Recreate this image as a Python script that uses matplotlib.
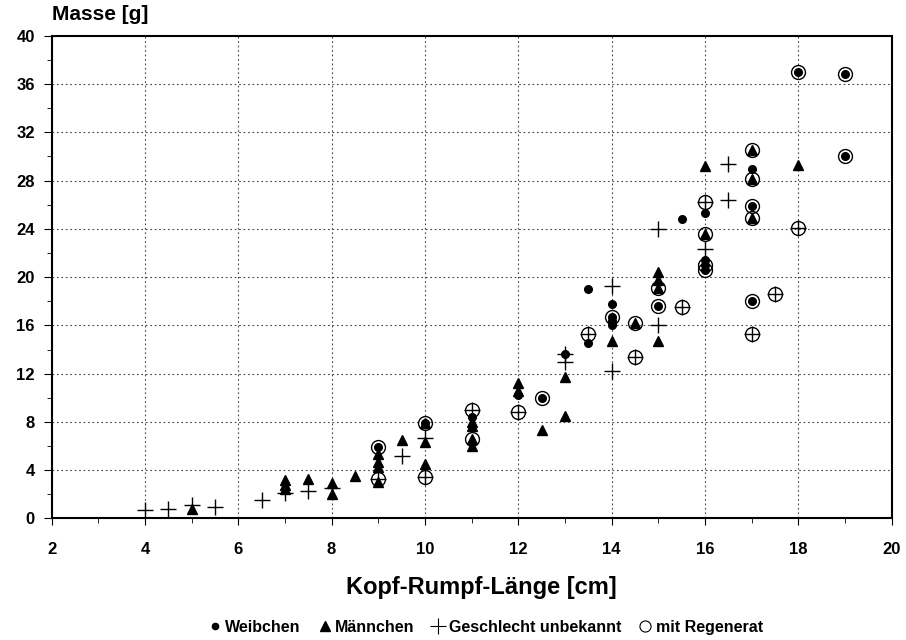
import matplotlib
matplotlib.use('Agg')
import matplotlib.pyplot as plt
from matplotlib.lines import Line2D

plt.rcParams['font.family'] = ['Liberation Sans', 'DejaVu Sans']
plt.rcParams['font.weight'] = 'bold'

# Weibchen (filled circles)
w_x = [9, 10, 11, 12, 12.5, 13, 13.5, 13.5, 14, 14, 14, 14, 15, 15.5, 16, 16, 16, 16,
       17, 17, 17, 18, 19, 19]
w_y = [5.9, 7.9, 8.4, 10.2, 10.0, 13.6, 19.0, 14.5, 17.8, 16.7, 16.4, 16.0, 17.6, 24.8,
       25.3, 21.4, 21.0, 20.6, 29.0, 25.9, 18.0, 37.0, 36.8, 30.0]

# Männchen (filled triangles)
m_x = [5, 7, 7, 7, 7.5, 8, 8, 8.5, 9, 9, 9, 9, 9.5, 10, 10, 10, 11, 11, 11, 11,
       12, 12, 12.5, 13, 13, 14, 14.5, 15, 15, 15, 15, 16, 16, 17, 17, 17, 18]
m_y = [0.8, 3.2, 2.8, 2.4, 3.3, 2.9, 2.0, 3.5, 5.3, 4.7, 4.3, 3.0, 6.5, 7.9, 6.3, 4.5,
       8.0, 7.7, 6.6, 6.0, 11.2, 10.6, 7.3, 11.7, 8.45, 14.7, 16.2, 20.4, 19.8, 19.1,
       14.7, 29.2, 23.6, 30.5, 28.1, 24.9, 29.3]

# Geschlecht unbekannt (plus)
u_x = [4, 4.5, 5, 5.5, 6.5, 7, 7.5, 8, 9, 9.5, 10, 10, 11, 12, 13, 13, 13.5, 14, 14,
       14.5, 15, 15, 15.5, 16, 16, 16.5, 16.5, 17, 17.5, 18]
u_y = [0.7, 0.8, 1.1, 0.95, 1.55, 2.1, 2.3, 2.5, 3.3, 5.2, 6.7, 3.4, 9.0, 8.8, 13.6,
       13.0, 15.3, 19.3, 12.2, 13.4, 24.0, 16.0, 17.5, 22.3, 26.2, 29.4, 26.4, 15.3,
       18.6, 24.1]

# mit Regenerat (open circles)
r_x = [9, 9, 10, 10, 11, 11, 12, 12.5, 13.5, 14, 14.5, 14.5, 15, 15, 15.5, 16, 16, 16,
       16, 17, 17, 17, 17, 17, 17, 17.5, 18, 18, 19, 19]
r_y = [5.9, 3.3, 7.9, 3.4, 9.0, 6.6, 8.8, 10.0, 15.3, 16.7, 16.2, 13.4, 19.1, 17.6,
       17.5, 26.2, 23.6, 21.0, 20.6, 30.5, 28.1, 25.9, 24.9, 18.0, 15.3, 18.6, 37.0,
       24.1, 36.8, 30.0]

fig = plt.figure(figsize=(9.06, 6.4), dpi=100)
ax = fig.add_axes([0.057, 0.19, 0.927, 0.754])

ax.plot(u_x, u_y, '+', color='black', ms=12, mew=1.0, ls='none')
ax.plot(m_x, m_y, '^', color='black', ms=7, ls='none')
ax.plot(w_x, w_y, 'o', color='black', ms=5.5, ls='none')
ax.plot(r_x, r_y, 'o', mfc='none', mec='black', ms=10, mew=1.0, ls='none')

ax.set_xlim(2, 20)
ax.set_ylim(0, 40)
ax.set_xticks(range(2, 21, 2))
ax.set_xticks(range(2, 21), minor=True)
ax.set_yticks(range(0, 41, 4))
ax.set_yticks(range(0, 41, 2), minor=True)
ax.tick_params(which='both', direction='out', labelsize=12)
ax.tick_params(axis='y', which='major', length=6, pad=6)
ax.tick_params(axis='x', which='major', length=5, pad=12)
ax.tick_params(which='minor', length=3.5)
ax.grid(True, which='major', ls=(0, (1.5, 2.5)), color='#444444', lw=0.8)
for s in ax.spines.values():
    s.set_linewidth(1.5)

ax.set_xlabel('Kopf-Rumpf-Länge [cm]', fontsize=17, fontweight='bold')
ax.xaxis.set_label_coords(0.512, -0.12)
fig.text(0.057, 0.977, 'Masse [g]', fontsize=15, fontweight='bold', ha='left', va='center')

handles = [
    Line2D([], [], marker='o', color='black', ms=4.5, ls='none'),
    Line2D([], [], marker='^', color='black', ms=7, ls='none'),
    Line2D([], [], marker='+', color='black', ms=11, mew=0.8, ls='none'),
    Line2D([], [], marker='o', mfc='none', mec='black', ms=8, mew=0.8, ls='none'),
]
labels = ['Weibchen', 'Männchen', 'Geschlecht unbekannt', 'mit Regenerat']
fig.legend(handles, labels, loc='center', bbox_to_anchor=(0.535, 0.02), ncol=4,
           frameon=False, handletextpad=0.15, columnspacing=1.0,
           handlelength=1.0, prop={'weight': 'bold', 'size': 11.5})

fig.savefig('out.png', dpi=100)
